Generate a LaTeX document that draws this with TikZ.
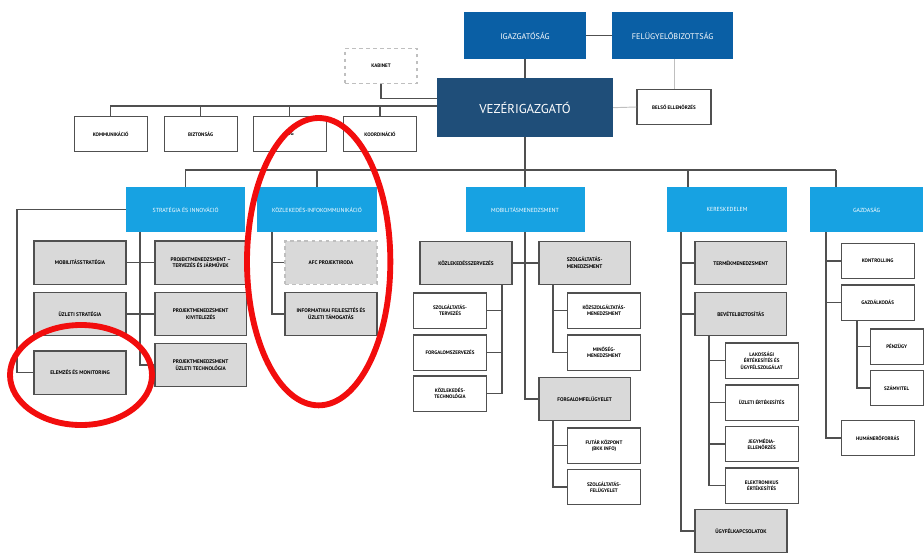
\documentclass[tikz,border=0pt]{standalone}
\usepackage{fontspec}
\setmainfont{PT Sans}
\usepackage{tikz}
\usetikzlibrary{positioning}

\definecolor{boardblue}{HTML}{0A5FA5}
\definecolor{ceoblue}{HTML}{1F4E79}
\definecolor{divblue}{HTML}{17A2E2}
\definecolor{deptgray}{HTML}{D9D9D9}
\definecolor{linegray}{HTML}{505050}
\definecolor{faintgray}{HTML}{BFBFBF}
\definecolor{markred}{HTML}{F20D0D}

\tikzset{
	boardbox/.style={fill=boardblue, text=white, minimum width=3.64cm, minimum height=1.41cm, font=\fontsize{7}{8}\selectfont},
	ceobox/.style={fill=ceoblue, text=white, minimum width=5.28cm, minimum height=1.77cm, font=\fontsize{11}{13}\selectfont},
	divbox/.style={fill=divblue, text=white, minimum width=3.57cm, minimum height=1.35cm, font=\fontsize{5}{6}\selectfont},
	deptbox/.style={draw=linegray, line width=1.3pt, fill=deptgray, inner sep=1pt, minimum width=2.75cm, minimum height=1.30cm, align=center, font=\bfseries\fontsize{4.5}{5.6}\selectfont},
	teambox/.style={draw=linegray, line width=1pt, fill=white, inner sep=1pt, minimum width=2.20cm, minimum height=1.06cm, align=center, font=\bfseries\fontsize{4.3}{5.3}\selectfont},
	link/.style={draw=linegray, line width=0.9pt},
	faintlink/.style={draw=faintgray, line width=0.8pt},
	markring/.style={draw=markred, line width=5pt},
}

\begin{document}
\begin{tikzpicture}

	\useasboundingbox (0cm,0cm) rectangle (27.72cm,-16.59cm);

	%Management
	\node[boardbox] (Igazgatosag) at (15.75cm,-1.07cm) {IGAZGATÓSÁG};
	\node[boardbox] (Felugyelo) at (20.18cm,-1.07cm) {FELÜGYELŐBIZOTTSÁG};
	\node[ceobox] (Vezer) at (15.75cm,-3.23cm) {VEZÉRIGAZGATÓ};
	\node[teambox, dashed, draw=faintgray, minimum width=2.16cm] (Kabinet) at (11.43cm,-1.98cm) {KABINET};
	\node[teambox, minimum width=2.22cm] (Belso) at (20.22cm,-3.21cm) {BELSŐ ELLENŐRZÉS};

	%Staff units
	\node[teambox, minimum width=2.19cm] (Komm) at (3.32cm,-4.02cm) {KOMMUNIKÁCIÓ};
	\node[teambox, minimum width=2.19cm] (Bizt) at (6.02cm,-4.02cm) {BIZTONSÁG};
	\node[teambox, minimum width=2.19cm] (Jog) at (8.69cm,-4.02cm) {JOG};
	\node[teambox, minimum width=2.19cm] (Koord) at (11.40cm,-4.02cm) {KOORDINÁCIÓ};

	%Divisions
	\node[divbox] (Strat) at (5.57cm,-6.29cm) {STRATÉGIA ÉS INNOVÁCIÓ};
	\node[divbox, minimum width=3.60cm] (Kozlinfo) at (9.51cm,-6.29cm) {KÖZLEKEDÉS-INFOKOMMUNIKÁCIÓ};
	\node[divbox] (Mobil) at (15.75cm,-6.29cm) {MOBILITÁSMENEDZSMENT};
	\node[divbox, minimum width=3.60cm] (Keresk) at (21.81cm,-6.29cm) {KERESKEDELEM};
	\node[divbox, minimum width=3.39cm] (Gazd) at (26.00cm,-6.29cm) {GAZDASÁG};

	%Strategia
	\node[deptbox] (Mobstrat) at (2.40cm,-7.88cm) {MOBILITÁSSTRATÉGIA};
	\node[deptbox] (Uzlstrat) at (2.40cm,-9.42cm) {ÜZLETI STRATÉGIA};
	\node[deptbox] (Elemzes) at (2.40cm,-11.18cm) {ELEMZÉS ÉS MONITORING};
	\node[deptbox] (PmTerv) at (6.02cm,-7.88cm) {PROJEKTMENEDZSMENT –\\TERVEZÉS ÉS JÁRMŰVEK};
	\node[deptbox] (PmKivit) at (6.02cm,-9.42cm) {PROJEKTMENEDZSMENT\\KIVITELEZÉS};
	\node[deptbox] (PmUzlet) at (6.02cm,-10.95cm) {PROJEKTMENEDZSMENT\\ÜZLETI TECHNOLÓGIA};

	%Infokommunikacio
	\node[deptbox, dashed, draw=faintgray] (Afc) at (9.93cm,-7.88cm) {AFC PROJEKTIRODA};
	\node[deptbox] (Infotam) at (9.93cm,-9.42cm) {INFORMATIKAI FEJLESZTÉS ÉS\\ÜZLETI TÁMOGATÁS};

	%Mobilitasmenedzsment
	\node[deptbox] (Kozlszerv) at (13.98cm,-7.89cm) {KÖZLEKEDÉSSZERVEZÉS};
	\node[deptbox] (Szolgmen) at (17.54cm,-7.89cm) {SZOLGÁLTATÁS-\\MENEDZSMENT};
	\node[deptbox] (Forgfel) at (17.54cm,-11.97cm) {FORGALOMFELÜGYELET};
	\node[teambox] (Szolgterv) at (13.50cm,-9.32cm) {SZOLGÁLTATÁS-\\TERVEZÉS};
	\node[teambox] (Forgszerv) at (13.50cm,-10.58cm) {FORGALOMSZERVEZÉS};
	\node[teambox] (Kozltech) at (13.50cm,-11.81cm) {KÖZLEKEDÉS-\\TECHNOLÓGIA};
	\node[teambox] (Kozszolg) at (18.12cm,-9.32cm) {KÖZSZOLGÁLTATÁS-\\MENEDZSMENT};
	\node[teambox] (Minoseg) at (18.12cm,-10.58cm) {MINŐSÉG-\\MENEDZSMENT};
	\node[teambox] (Futar) at (18.12cm,-13.37cm) {FUTÁR KÖZPONT\\(BKK INFO)};
	\node[teambox] (Szolgfel) at (18.12cm,-14.61cm) {SZOLGÁLTATÁS-\\FELÜGYELET};

	%Kereskedelem
	\node[deptbox] (Termek) at (22.22cm,-7.89cm) {TERMÉKMENEDZSMENT};
	\node[deptbox] (Bevetel) at (22.22cm,-9.42cm) {BEVÉTELBIZTOSÍTÁS};
	\node[deptbox] (Ugyfel) at (22.23cm,-15.93cm) {ÜGYFÉLKAPCSOLATOK};
	\node[teambox, minimum width=2.19cm] (Lakossagi) at (22.85cm,-10.82cm) {LAKOSSÁGI\\ÉRTÉKESÍTÉS ÉS\\ÜGYFÉLSZOLGÁLAT};
	\node[teambox, minimum width=2.19cm] (Uzletert) at (22.85cm,-12.08cm) {ÜZLETI ÉRTÉKESÍTÉS};
	\node[teambox, minimum width=2.19cm] (Jegymedia) at (22.85cm,-13.32cm) {JEGYMÉDIA-\\ELLENŐRZÉS};
	\node[teambox, minimum width=2.19cm] (Elektr) at (22.85cm,-14.57cm) {ELEKTRONIKUS\\ÉRTÉKESÍTÉS};

	%Gazdasag
	\node[teambox, minimum width=2.19cm] (Kontrolling) at (26.33cm,-7.83cm) {KONTROLLING};
	\node[teambox, minimum width=2.19cm] (Gazdalk) at (26.33cm,-9.08cm) {GAZDÁLKODÁS};
	\node[teambox, minimum width=1.59cm] (Penzugy) at (26.90cm,-10.40cm) {PÉNZÜGY};
	\node[teambox, minimum width=1.59cm] (Szamvitel) at (26.90cm,-11.64cm) {SZÁMVITEL};
	\node[teambox, minimum width=2.19cm] (Human) at (26.33cm,-13.14cm) {HUMÁNERŐFORRÁS};

	%%%%%%%%%%%%%%%%%%%%%%%%%%%%%%%%%%%%%%%%%%%%%%%%%%%%

	%Buses
	\coordinate (TopBus) at (0cm,-3.18cm);
	\coordinate (MainBus) at (0cm,-5.10cm);
	\coordinate (KereskDrop) at (20.64cm,-5.10cm);
	\coordinate (GazdDrop) at (25.08cm,-5.10cm);
	\coordinate (StratLeft) at (0.51cm,0cm);
	\coordinate (StratBus) at (4.20cm,0cm);
	\coordinate (KozlBus) at (8.16cm,0cm);
	\coordinate (KszBus) at (15.06cm,0cm);
	\coordinate (SzmBus) at (16.59cm,0cm);
	\coordinate (KerBus) at (20.43cm,0cm);
	\coordinate (BevBus) at (21.27cm,0cm);
	\coordinate (GazdBus) at (24.78cm,0cm);
	\coordinate (GalkBus) at (25.71cm,0cm);

	%Management lines
	\draw[link] (Igazgatosag) -- (Felugyelo);
	\draw[link] (Igazgatosag) -- (Vezer);
	\draw[faintlink] (Felugyelo.south -| Belso.north) -- (Belso.north);
	\draw[faintlink] (Vezer.east) -- (Belso.west);
	\draw[link] (Kabinet.south) |- ([yshift=0.28cm]Vezer.west);
	\draw[link] (Komm.north) |- (Vezer.west |- TopBus);
	\foreach \unit in {Bizt,Jog,Koord}
		\draw[link] (\unit.north) -- (\unit.north |- TopBus);

	%Division lines
	\draw[link] (Vezer.south) -- (Mobil.north);
	\draw[link] (Strat.north) |- (GazdDrop);
	\draw[link] (Kozlinfo.north) -- (Kozlinfo.north |- MainBus);
	\draw[link] (KereskDrop) -- (KereskDrop |- Keresk.north);
	\draw[link] (GazdDrop) -- (GazdDrop |- Gazd.north);

	%Strategia lines
	\draw[link] (Strat.west) -| (StratLeft |- Elemzes.west) -- (Elemzes.west);
	\draw[link] (StratBus |- Strat.south) |- (PmUzlet.west);
	\draw[link] (Mobstrat.east) -- (PmTerv.west);
	\draw[link] (Uzlstrat.east) -- (PmKivit.west);

	%Infokommunikacio lines
	\draw[link] (KozlBus |- Kozlinfo.south) |- (Infotam.west);
	\draw[link] (KozlBus |- Afc.west) -- (Afc.west);

	%Mobilitasmenedzsment lines
	\draw[link] (Kozlszerv.east) -- (Szolgmen.west);
	\draw[link] (Mobil.south) |- (Forgfel.west);
	\draw[link] (KszBus |- Kozlszerv.south) |- (Kozltech.east);
	\foreach \team in {Szolgterv,Forgszerv}
		\draw[link] (KszBus |- \team.east) -- (\team.east);
	\draw[link] (SzmBus |- Szolgmen.south) |- (Minoseg.west);
	\draw[link] (SzmBus |- Kozszolg.west) -- (Kozszolg.west);
	\draw[link] (SzmBus |- Forgfel.south) |- (Szolgfel.west);
	\draw[link] (SzmBus |- Futar.west) -- (Futar.west);

	%Kereskedelem lines
	\draw[link] (KerBus |- Keresk.south) |- (Ugyfel.west);
	\foreach \dept in {Termek,Bevetel}
		\draw[link] (KerBus |- \dept.west) -- (\dept.west);
	\draw[link] (BevBus |- Bevetel.south) |- (Elektr.west);
	\foreach \team in {Lakossagi,Uzletert,Jegymedia}
		\draw[link] (BevBus |- \team.west) -- (\team.west);

	%Gazdasag lines
	\draw[link] (GazdBus |- Gazd.south) |- (Human.west);
	\foreach \team in {Kontrolling,Gazdalk}
		\draw[link] (GazdBus |- \team.west) -- (\team.west);
	\draw[link] (GalkBus |- Gazdalk.south) |- (Szamvitel.west);
	\draw[link] (GalkBus |- Penzugy.west) -- (Penzugy.west);

	%Markings
	\draw[markring] (2.43cm,-11.25cm) ellipse (2.13cm and 1.50cm);
	\draw[markring] (9.56cm,-7.85cm) ellipse (2.15cm and 4.31cm);

\end{tikzpicture}
\end{document}
